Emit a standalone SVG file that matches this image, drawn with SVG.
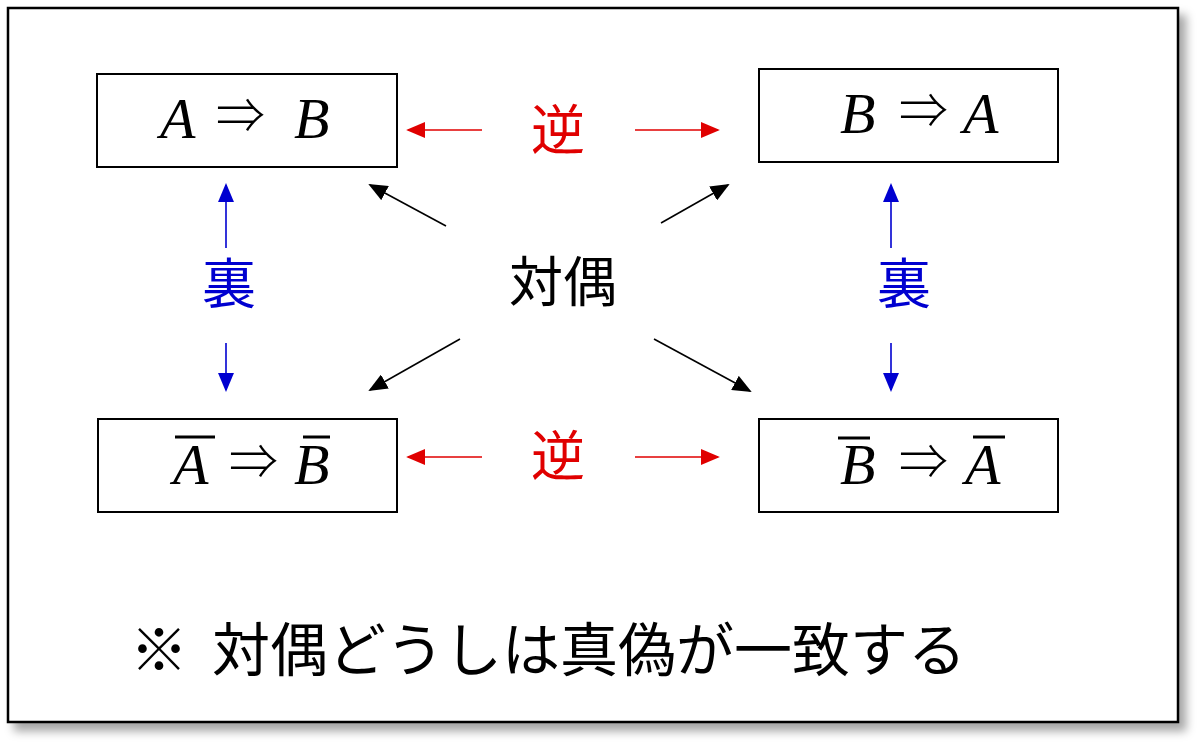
<svg xmlns="http://www.w3.org/2000/svg" width="1200" height="743" viewBox="0 0 1200 743">
<defs>
<filter id="sh" x="-5%" y="-5%" width="115%" height="115%">
<feDropShadow dx="7" dy="8" stdDeviation="5" flood-color="#000" flood-opacity="0.35"/>
</filter>
<marker id="mb" viewBox="0 0 10 10" refX="9" refY="5" markerWidth="19" markerHeight="16" orient="auto" markerUnits="userSpaceOnUse" preserveAspectRatio="none"><path d="M0,0 L10,5 L0,10 z" fill="#0000d0"/></marker>
<marker id="mk" viewBox="0 0 10 10" refX="9" refY="5" markerWidth="19" markerHeight="16" orient="auto" markerUnits="userSpaceOnUse" preserveAspectRatio="none"><path d="M0,0 L10,5 L0,10 z" fill="#000"/></marker>
<marker id="mrr" viewBox="0 0 10 10" refX="9" refY="5" markerWidth="19" markerHeight="16" orient="auto" markerUnits="userSpaceOnUse" preserveAspectRatio="none"><path d="M0,0 L10,5 L0,10 z" fill="#e00000"/></marker>
</defs>
<style>
.box{fill:#fff;stroke:#000;stroke-width:2}
.m{font-family:"Liberation Serif",serif;font-style:italic;font-size:58px;fill:#000}
.ar{font-family:"Noto Sans CJK JP",sans-serif;font-size:49px;font-weight:300;fill:#000}
.bar{stroke:#000;stroke-width:3}
.j{font-family:"Noto Sans CJK JP",sans-serif;font-size:54px;text-anchor:middle}
.red{stroke:#e00000;stroke-width:1.6;fill:none}
.blue{stroke:#0000d0;stroke-width:1.6;fill:none}
.blk{stroke:#000;stroke-width:1.6;fill:none}
.foot{font-family:"Noto Sans CJK JP",sans-serif;font-size:58px;fill:#000}
</style>
<rect width="1200" height="743" fill="#fff"/>
<rect x="8" y="8" width="1170" height="714" fill="#fff" stroke="#000" stroke-width="2.5" filter="url(#sh)"/>

<g id="node-ab">
<rect class="box" x="97" y="74" width="300" height="93"/>
<text class="m" x="160" y="138">A</text>
<text class="ar" x="216" y="133">⇒</text>
<text class="m" x="294" y="138">B</text>
</g>
<g id="node-ba">
<rect class="box" x="759" y="69" width="299" height="93"/>
<text class="m" x="840" y="133">B</text>
<text class="ar" x="899" y="128">⇒</text>
<text class="m" x="963" y="133">A</text>
</g>
<g id="node-nanb">
<rect class="box" x="98" y="419" width="299" height="93"/>
<text class="m" x="173" y="484">A</text>
<line class="bar" x1="175" y1="437" x2="215" y2="437"/>
<text class="ar" x="229" y="479">⇒</text>
<text class="m" x="294" y="484">B</text>
<line class="bar" x1="303" y1="437" x2="330" y2="437"/>
</g>
<g id="node-nbna">
<rect class="box" x="759" y="419" width="299" height="93"/>
<text class="m" x="840" y="484">B</text>
<line class="bar" x1="838" y1="438" x2="870" y2="438"/>
<text class="ar" x="899" y="479">⇒</text>
<text class="m" x="965" y="484">A</text>
<line class="bar" x1="973" y1="437" x2="1005" y2="437"/>
</g>

<g id="labels">
<text class="j" x="558" y="150" fill="#e00000">逆</text>
<text class="j" x="558" y="476" fill="#e00000">逆</text>
<text class="j" x="229" y="304" fill="#0000d0">裏</text>
<text class="j" x="904" y="304" fill="#0000d0">裏</text>
<text class="j" x="563" y="302" fill="#000" font-size="56">対偶</text>
</g>

<g id="connectors">
<line class="red" x1="482" y1="130" x2="408" y2="130" marker-end="url(#mrr)"/>
<line class="red" x1="635" y1="130" x2="718" y2="130" marker-end="url(#mrr)"/>
<line class="red" x1="482" y1="457" x2="408" y2="457" marker-end="url(#mrr)"/>
<line class="red" x1="635" y1="457" x2="718" y2="457" marker-end="url(#mrr)"/>
<line class="blue" x1="226" y1="248" x2="226" y2="185" marker-end="url(#mb)"/>
<line class="blue" x1="226" y1="343" x2="226" y2="390" marker-end="url(#mb)"/>
<line class="blue" x1="891" y1="248" x2="891" y2="185" marker-end="url(#mb)"/>
<line class="blue" x1="891" y1="343" x2="891" y2="390" marker-end="url(#mb)"/>
<line class="blk" x1="446" y1="226" x2="370" y2="185" marker-end="url(#mk)"/>
<line class="blk" x1="661" y1="223" x2="728" y2="185" marker-end="url(#mk)"/>
<line class="blk" x1="460" y1="339" x2="370" y2="390" marker-end="url(#mk)"/>
<line class="blk" x1="654" y1="339" x2="750" y2="391" marker-end="url(#mk)"/>
</g>

<g id="footnote">
<text class="foot" x="130" y="671">※</text>
<text class="foot" x="212" y="671">対偶どうしは真偽が一致する</text>
</g>
</svg>
